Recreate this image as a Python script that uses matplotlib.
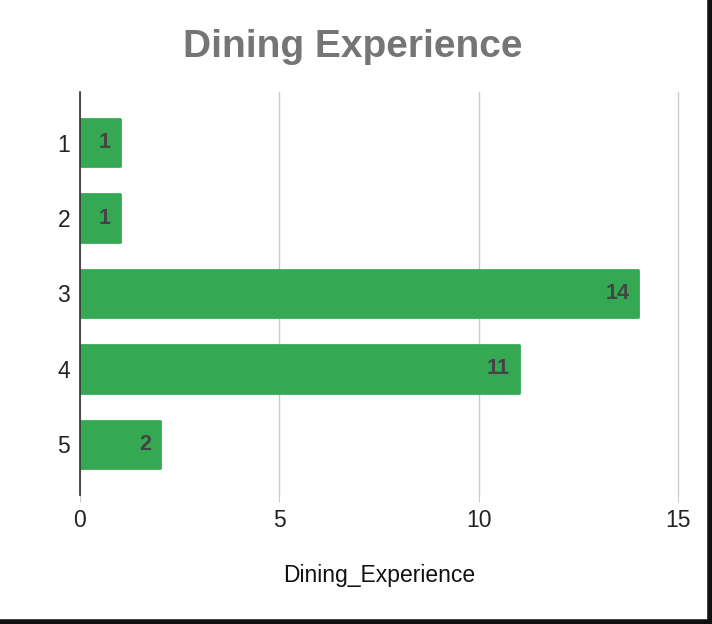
import matplotlib
matplotlib.use("Agg")
import matplotlib.pyplot as plt
from matplotlib.lines import Line2D

categories = ["1", "2", "3", "4", "5"]
values = [1, 1, 14, 11, 2]
xticks = [0, 5, 10, 15]

plt.rcParams['font.family'] = ['Liberation Sans', 'DejaVu Sans']

fig = plt.figure(figsize=(7.12, 6.24), dpi=100)
ax = fig.add_axes([80/712, 1-495/624, (678-80)/712, (495-92)/624])

y = list(range(1, len(categories) + 1))
bars = ax.barh(y, values, height=0.63, color="#34A853", edgecolor="#34A853",
               linewidth=2, joinstyle="round", zorder=3)
ax.set_ylim(5.67, 0.33)
ax.set_xlim(0, 15)
ax.set_yticks(y)
ax.set_yticklabels(categories)
ax.set_xticks(xticks)
ax.set_xticklabels([str(t) for t in xticks])

ax.grid(axis="x", color="#cccccc", linewidth=1, zorder=0)
for gl in ax.get_xgridlines():
    gl.set_clip_on(False)
for s in ["top", "right", "bottom"]:
    ax.spines[s].set_visible(False)
ax.spines["left"].set_color("#333333")
ax.spines["left"].set_linewidth(1.2)
ax.spines["left"].set_zorder(4)
ax.tick_params(axis="y", length=0, pad=7, labelsize=16.5, labelcolor="#222222")
ax.tick_params(axis="x", length=5, color="#cccccc", pad=5, labelsize=16.5, labelcolor="#222222")

for b, v in zip(bars, values):
    ax.text(b.get_width() - 0.22, b.get_y() + b.get_height()/2, str(v),
            ha="right", va="center", fontsize=15.5, fontweight="bold", color="#444444", zorder=5)

ax.set_xlabel("Dining_Experience", fontsize=16.5, color="#111111", labelpad=23)
fig.text(353/712, 1-47/624, "Dining Experience", ha="center", va="center",
         fontsize=28, fontweight="bold", color="#757575")

# screenshot border
fig.add_artist(Line2D([709.5/712, 709.5/712], [0, 1], transform=fig.transFigure, color="#111111", linewidth=4))
fig.add_artist(Line2D([0, 1], [2.5/624, 2.5/624], transform=fig.transFigure, color="#111111", linewidth=4))

fig.savefig("out.png", dpi=100)
